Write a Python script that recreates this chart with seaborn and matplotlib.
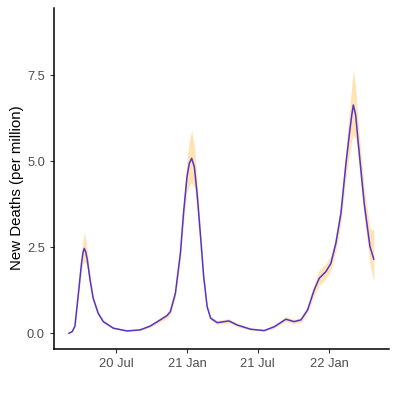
import matplotlib
matplotlib.use("Agg")
import matplotlib.pyplot as plt
import seaborn as sns
import pandas as pd

dates = ["2020-03-01", "2020-03-10", "2020-03-17", "2020-03-25", "2020-04-03", "2020-04-07",
         "2020-04-10", "2020-04-14", "2020-04-18", "2020-04-25", "2020-05-03", "2020-05-16",
         "2020-05-29", "2020-06-24", "2020-07-29", "2020-09-01", "2020-09-27", "2020-10-23",
         "2020-11-10", "2020-11-18", "2020-12-01", "2020-12-14", "2020-12-22", "2020-12-31",
         "2021-01-06", "2021-01-12", "2021-01-19", "2021-01-26", "2021-02-04", "2021-02-12",
         "2021-02-21", "2021-03-02", "2021-03-19", "2021-04-18", "2021-05-10", "2021-06-13",
         "2021-07-18", "2021-08-13", "2021-09-12", "2021-10-03", "2021-10-21", "2021-11-07",
         "2021-11-24", "2021-12-07", "2021-12-24", "2022-01-06", "2022-01-19", "2022-02-01",
         "2022-02-14", "2022-02-23", "2022-03-01", "2022-03-05", "2022-03-11", "2022-03-17",
         "2022-04-02", "2022-04-17", "2022-04-27"]
deaths = [0.00, 0.05, 0.21, 1.06, 2.04, 2.36,
          2.47, 2.36, 2.13, 1.55, 1.02, 0.58,
          0.34, 0.15, 0.07, 0.10, 0.21, 0.39,
          0.52, 0.63, 1.16, 2.33, 3.49, 4.55,
          4.94, 5.09, 4.84, 4.07, 2.81, 1.65,
          0.77, 0.44, 0.31, 0.36, 0.24, 0.12,
          0.08, 0.19, 0.41, 0.34, 0.39, 0.68,
          1.26, 1.60, 1.79, 2.03, 2.62, 3.49,
          4.94, 5.81, 6.35, 6.64, 6.35, 5.62,
          3.78, 2.52, 2.15]
lower = [0.00, 0.04, 0.18, 0.95, 1.82, 2.02,
         2.07, 2.02, 1.88, 1.40, 0.93, 0.52,
         0.30, 0.12, 0.05, 0.08, 0.17, 0.33,
         0.44, 0.54, 1.04, 2.12, 3.18, 4.10,
         4.30, 4.37, 4.25, 3.70, 2.60, 1.52,
         0.70, 0.38, 0.26, 0.30, 0.19, 0.09,
         0.06, 0.15, 0.34, 0.28, 0.32, 0.59,
         1.10, 1.38, 1.58, 1.82, 2.38, 3.20,
         4.50, 5.20, 5.60, 5.77, 5.65, 5.10,
         3.35, 2.00, 1.50]
upper = [0.00, 0.06, 0.24, 1.17, 2.30, 2.75,
         2.94, 2.72, 2.40, 1.72, 1.12, 0.65,
         0.39, 0.18, 0.09, 0.12, 0.25, 0.46,
         0.60, 0.74, 1.30, 2.56, 3.82, 5.05,
         5.60, 5.90, 5.45, 4.45, 3.03, 1.79,
         0.85, 0.50, 0.37, 0.43, 0.29, 0.15,
         0.11, 0.24, 0.49, 0.41, 0.46, 0.78,
         1.45, 1.85, 2.02, 2.26, 2.88, 3.80,
         5.40, 6.50, 7.20, 7.65, 7.15, 6.20,
         4.25, 3.05, 3.00]

df = pd.DataFrame({"date": pd.to_datetime(dates), "deaths": deaths,
                   "lower": lower, "upper": upper})

sns.set_theme(style="ticks")
plt.rcParams["font.family"] = ["Liberation Sans", "DejaVu Sans"]

fig = plt.figure(figsize=(3.97, 3.97), dpi=100)
ax = fig.add_axes([54/397, 48/397, (389-54)/397, (349-8)/397])

ax.fill_between(df["date"], df["lower"], df["upper"], color="#FFE4B3", linewidth=0)
sns.lineplot(data=df, x="date", y="deaths", ax=ax, color="#5533CC", linewidth=1.1)

ax.set_xlim(pd.Timestamp("2020-01-23"), pd.Timestamp("2022-06-05"))
ax.set_ylim(-0.456, 9.46)
ax.set_yticks([0.0, 2.5, 5.0, 7.5])
ax.set_yticklabels(["0.0", "2.5", "5.0", "7.5"])
ticks = pd.to_datetime(["2020-07-01", "2021-01-01", "2021-07-01", "2022-01-01"])
ax.set_xticks(ticks)
ax.set_xticklabels(["20 Jul", "21 Jan", "21 Jul", "22 Jan"])
ax.set_xlabel("")
ax.set_ylabel("New Deaths (per million)", fontsize=10.8, color="black")
ax.tick_params(axis="both", labelsize=9.3, labelcolor="#4D4D4D", color="#333333",
               length=3, width=0.8)
for s in ["top", "right"]:
    ax.spines[s].set_visible(False)
for s in ["left", "bottom"]:
    ax.spines[s].set_linewidth(1.1)
    ax.spines[s].set_color("black")
ax.yaxis.set_label_coords(-0.09, 0.472)

fig.savefig("out.png", dpi=100)
